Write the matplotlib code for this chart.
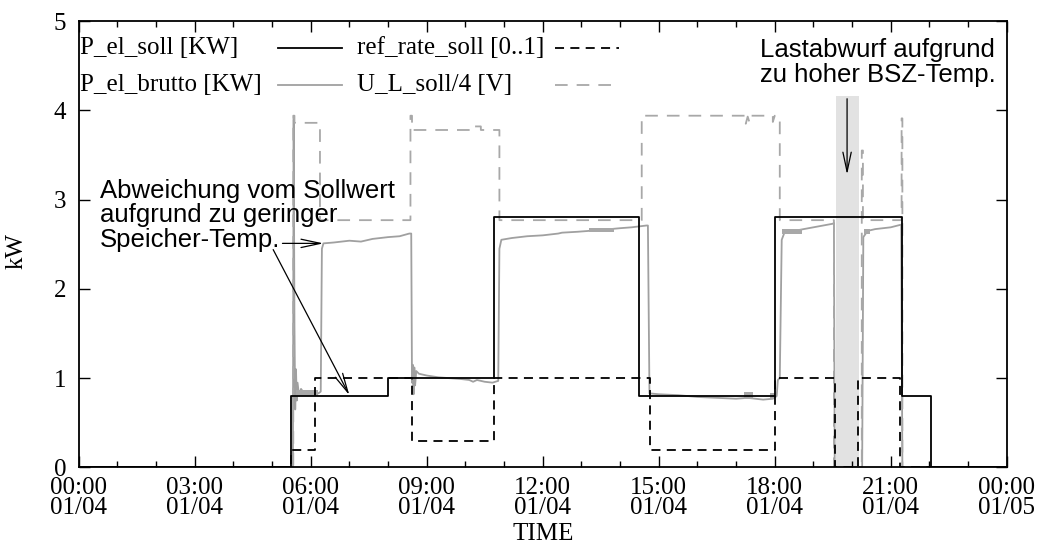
import matplotlib
matplotlib.use('Agg')
from matplotlib import pyplot as plt

plt.rcParams['font.family'] = ['Liberation Serif', 'DejaVu Serif']
plt.rcParams['font.size'] = 18

# time axis in hours since 01/04 00:00
hour_ticks = [0, 3, 6, 9, 12, 15, 18, 21, 24]
tick_labels = ['00:00\n01/04', '03:00\n01/04', '06:00\n01/04', '09:00\n01/04',
               '12:00\n01/04', '15:00\n01/04', '18:00\n01/04', '21:00\n01/04',
               '00:00\n01/05']

# P_el_soll [KW] (step)
soll_t = [0.0, 5.5, 8.0, 10.75, 14.5, 18.0, 21.28, 22.03, 24.0]
soll_v = [0.0, 0.8, 1.0, 2.8, 0.8, 2.8, 0.8, 0.0, 0.0]

# ref_rate_soll [0..1] (step)
ref_t = [0.0, 5.5, 6.11, 8.61, 10.75, 14.77, 18.0, 19.56, 20.14, 21.24, 24.0]
ref_v = [0.0, 0.2, 1.0, 0.3, 1.0, 0.2, 1.0, 0.0, 1.0, 0.0, 0.0]

# P_el_brutto [KW] (measured)
brutto_t = [0.0, 5.54, 5.56, 5.58, 5.60, 5.62, 5.64, 5.66, 5.70, 5.75, 5.85, 6.0, 6.2, 6.26,
            6.29, 6.33, 6.6, 7.0, 7.3, 7.6, 8.0, 8.3, 8.55, 8.60,
            8.62, 8.64, 8.66, 8.68, 8.70, 8.73, 8.8, 9.0, 9.3, 9.6, 9.9, 10.1, 10.2, 10.3,
            10.5, 10.7, 10.85,
            10.88, 10.93, 11.2, 11.6, 12.0, 12.4, 12.5, 12.9, 13.5, 14.0, 14.3, 14.68, 14.72,
            14.76, 15.0, 15.5, 16.0, 16.5, 17.0, 17.3, 17.7, 17.95, 18.05, 18.08, 18.13,
            18.18, 18.25, 18.5, 19.0, 19.5, 19.53,
            19.55, 20.26, 20.29, 20.4, 20.6, 21.0, 21.27, 21.3, 24.0]
brutto_v = [0.0, 0.0, 3.9, 1.6, 0.65, 1.1, 0.75, 0.95, 0.8, 0.88, 0.82, 0.84, 0.83, 0.85,
            2.45, 2.51, 2.52, 2.54, 2.53, 2.56, 2.58, 2.59, 2.62, 2.62,
            0.95, 1.15, 0.82, 1.12, 0.92, 1.08, 1.05, 1.03, 1.01, 1.0, 0.99, 0.98, 0.96, 0.98,
            0.96, 0.95, 0.97,
            2.45, 2.55, 2.57, 2.59, 2.60, 2.62, 2.63, 2.64, 2.66, 2.68, 2.69, 2.71, 2.71,
            0.83, 0.82, 0.81, 0.79, 0.78, 0.77, 0.78, 0.76, 0.77, 0.8, 0.98, 1.0,
            2.55, 2.63, 2.65, 2.69, 2.73, 2.74,
            0.0, 0.0, 2.58, 2.65, 2.67, 2.69, 2.72, 0.0, 0.0]

# noisy stretches of P_el_brutto (start, end, low, high)
noise_t0 = [5.62, 13.2, 17.2, 17.88, 18.2, 20.3]
noise_t1 = [6.2, 13.85, 17.45, 18.0, 18.7, 20.45]
noise_lo = [0.8, 2.64, 0.77, 0.77, 2.62, 2.62]
noise_hi = [0.87, 2.685, 0.84, 0.83, 2.67, 2.67]

# U_L_soll/4 [V]
ul_t = [0.0, 5.55, 5.55, 5.58, 5.58, 6.24, 6.24, 8.58, 8.58, 8.62, 8.62, 10.25, 10.25,
        10.4, 10.4, 10.88, 10.88, 14.56, 14.56, 17.25, 17.25, 17.3, 17.35, 17.4, 17.95,
        17.95, 18.0, 18.05, 18.13, 18.13, 19.53, 19.53, 20.25, 20.25, 20.28, 20.28,
        21.28, 21.28, 21.3, 21.3, 24.0]
ul_v = [0.0, 0.0, 3.94, 3.94, 3.86, 3.86, 2.77, 2.77, 3.94, 3.94, 3.78, 3.78, 3.82,
        3.82, 3.78, 3.78, 2.77, 2.77, 3.94, 3.94, 3.85, 3.93, 3.86, 3.94, 3.94,
        3.87, 3.94, 3.89, 3.89, 2.77, 2.77, 0.0, 0.0, 3.55, 3.55, 2.77,
        2.77, 3.91, 3.91, 0.0, 0.0]

# load shedding interval
band_t = [19.58, 20.17]
band_top = 4.16

styles = {
    'soll': dict(color='black', lw=1.3),
    'ref': dict(color='black', lw=1.3, dashes=(5, 3.5)),
    'brutto': dict(color='#a0a0a0', lw=1.3),
    'ul': dict(color='#a8a8a8', lw=1.3, dashes=(7, 5)),
}

fig = plt.figure(figsize=(10.39, 5.40), dpi=100)
ax = fig.add_axes([0.0757, 0.1343, 0.8933, 0.8267])

ax.fill_between(band_t, 0, band_top, color='#e2e2e2', lw=0, zorder=1)
ax.plot(soll_t, soll_v, drawstyle='steps-post', zorder=3, **styles['soll'])
ax.plot(ref_t, ref_v, drawstyle='steps-post', zorder=3, **styles['ref'])
ax.plot(brutto_t, brutto_v, zorder=2, **styles['brutto'])
for t0, t1, lo, hi in zip(noise_t0, noise_t1, noise_lo, noise_hi):
    ax.fill_between([t0, t1], lo, hi, color='#a8a8a8', lw=0, zorder=2)
ax.plot(ul_t, ul_v, zorder=2, **styles['ul'])

ax.set_xlim(0, 24)
ax.set_ylim(0, 5)
ax.set_xticks(hour_ticks)
ax.set_xticklabels(tick_labels, linespacing=0.85)
ax.set_xticks(range(25), minor=True)
ax.set_yticks(range(6))
ax.tick_params(which='both', direction='in', top=True, right=True, width=1)
ax.tick_params(which='major', length=8)
ax.tick_params(which='minor', length=4.5)
ax.tick_params(axis='x', pad=7)
ax.tick_params(axis='y', pad=9)
for sp in ax.spines.values():
    sp.set_linewidth(1.3)

ax.set_xlabel('TIME')
ax.xaxis.set_label_coords(0.5, -0.124)
ax.set_ylabel('kW')
ax.yaxis.set_label_coords(-0.0546, 0.485)

# key, gnuplot style: text then sample
key = [('P_el_soll [KW]', 'soll', 0.0015, 0.2148, 0.94),
       ('ref_rate_soll [0..1]', 'ref', 0.300, 0.5133, 0.94),
       ('P_el_brutto [KW]', 'brutto', 0.0015, 0.2148, 0.857),
       ('U_L_soll/4 [V]', 'ul', 0.300, 0.5133, 0.857)]
for label, name, tx, sx, ty in key:
    ax.text(tx, ty, label, transform=ax.transAxes, ha='left', va='center')
    ax.plot([sx, sx + 0.069], [ty, ty], transform=ax.transAxes, **styles[name])

sans = ['Liberation Sans', 'DejaVu Sans']
ax.text(0.55, 2.47, 'Abweichung vom Sollwert\naufgrund zu geringer\nSpeicher-Temp.',
        family=sans, fontsize=18.5, linespacing=1.03, va='baseline', ha='left', zorder=5)
arrow = dict(arrowstyle='->,head_length=1.4,head_width=0.3', color='black', lw=0.9,
             shrinkA=0, shrinkB=0, mutation_scale=10)
ax.annotate('', xy=(6.33, 2.51), xytext=(5.27, 2.51), arrowprops=arrow)
ax.annotate('', xy=(7.0, 0.81), xytext=(5.03, 2.44), arrowprops=arrow)

ax.text(17.62, 4.32, 'Lastabwurf aufgrund\nzu hoher BSZ-Temp.',
        family=sans, fontsize=18.5, linespacing=1.03, va='baseline', ha='left', zorder=5)
ax.annotate('', xy=(19.87, 3.28), xytext=(19.87, 4.13), arrowprops=arrow)

fig.savefig('out.png', dpi=100)
